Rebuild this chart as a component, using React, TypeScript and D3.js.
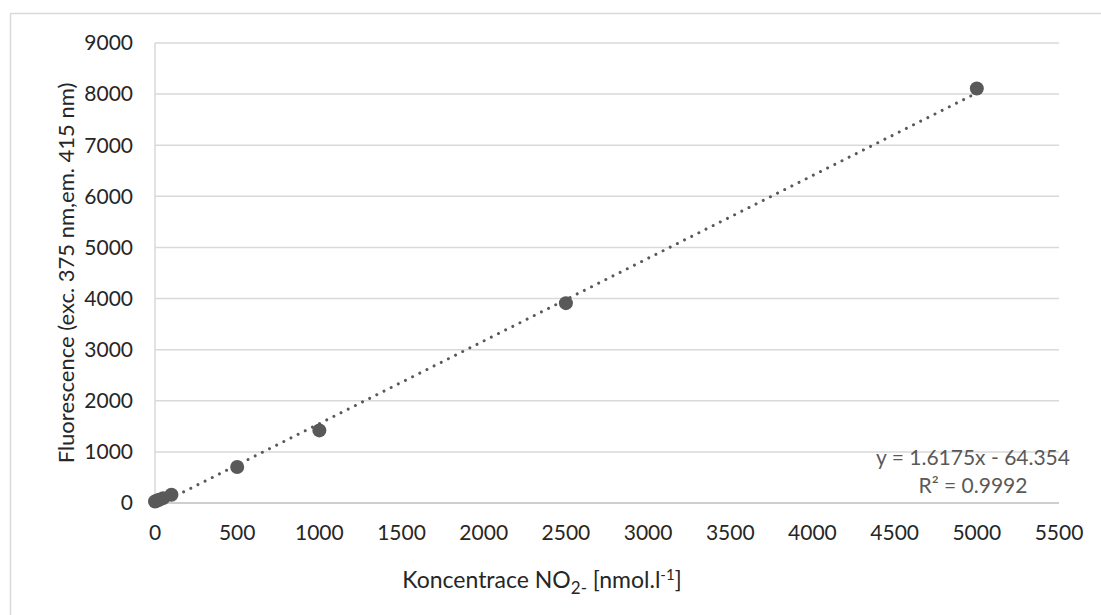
import * as d3 from 'd3';

const concentration = [0, 10, 25, 50, 100, 500, 1000, 2500, 5000];
const fluorescence = [30, 45, 65, 95, 160, 705, 1420, 3910, 8110];
const xTicks = [0, 500, 1000, 1500, 2000, 2500, 3000, 3500, 4000, 4500, 5000, 5500];
const yTicks = [0, 1000, 2000, 3000, 4000, 5000, 6000, 7000, 8000, 9000];
const slope = 1.6175;
const intercept = -64.354;
const equationLines = ['y = 1.6175x - 64.354', 'R² = 0.9992'];

const width = 1101;
const height = 615;
const marginLeft = 155;
const marginRight = 42;
const marginTop = 43;
const marginBottom = 112;

const font = 'Lato, "Open Sans", sans-serif';
const gray = '#595959';

export default function App() {
  const x = d3.scaleLinear([0, 5500], [marginLeft, width - marginRight]);
  const y = d3.scaleLinear([0, 9000], [height - marginBottom, marginTop]);

  const xMin = d3.min(concentration) ?? 0;
  const xMax = d3.max(concentration) ?? 0;
  const trend = d3.line<number>(
    (d) => x(d),
    (d) => y(slope * d + intercept),
  )([xMin, xMax]);

  const pts = concentration.map((c, i) => ({ c, f: fluorescence[i] }));

  return (
    <svg
      width={width}
      height={height}
      style={{ position: 'absolute', left: 0, top: 0, background: '#fff' }}
      fontFamily={font}
    >
      <rect x={10.5} y={13.5} width={width} height={height} fill='none' stroke='#d9d9d9' strokeWidth={1.5} />

      {yTicks.map((t) => (
        <g key={t}>
          {t > 0 && (
            <line x1={marginLeft} x2={width - marginRight} y1={y(t)} y2={y(t)} stroke='#d9d9d9' strokeWidth={1.5} />
          )}
          <text x={133} y={y(t)} dy='0.35em' textAnchor='end' fontSize={21} fill='#262626'>
            {t}
          </text>
        </g>
      ))}
      <line x1={marginLeft} x2={marginLeft} y1={marginTop} y2={y(0)} stroke='#d9d9d9' strokeWidth={1.5} />
      <line x1={marginLeft} x2={width - marginRight} y1={y(0)} y2={y(0)} stroke='#bfbfbf' strokeWidth={1.5} />

      {xTicks.map((t) => (
        <text key={t} x={x(t)} y={533} dy='0.35em' textAnchor='middle' fontSize={21} fill='#262626'>
          {t}
        </text>
      ))}

      {trend && (
        <path d={trend} fill='none' stroke={gray} strokeWidth={3} strokeDasharray='0.01 8' strokeLinecap='round' />
      )}

      <g fill={gray}>
        {pts.map((p, i) => (
          <circle key={i} cx={x(p.c)} cy={y(p.f)} r={7} />
        ))}
      </g>

      <text textAnchor='middle' fontSize={21} fill={gray}>
        {equationLines.map((l, i) => (
          <tspan key={i} x={973} y={465 + i * 28}>
            {l}
          </tspan>
        ))}
      </text>

      <text x={542} y={588} textAnchor='middle' fontSize={23} fill='#262626'>
        Koncentrace NO
        <tspan fontSize={17} dy={6}>2-</tspan>
        <tspan dy={-6}> [nmol.l</tspan>
        <tspan fontSize={15} dy={-8}>-1</tspan>
        <tspan dy={8}>]</tspan>
      </text>

      <text
        transform={`translate(74,${(marginTop + y(0)) / 2}) rotate(-90)`}
        textAnchor='middle'
        fontSize={22}
        fill='#262626'
      >
        Fluorescence (exc. 375 nm,em.  415 nm)
      </text>
    </svg>
  );
}
